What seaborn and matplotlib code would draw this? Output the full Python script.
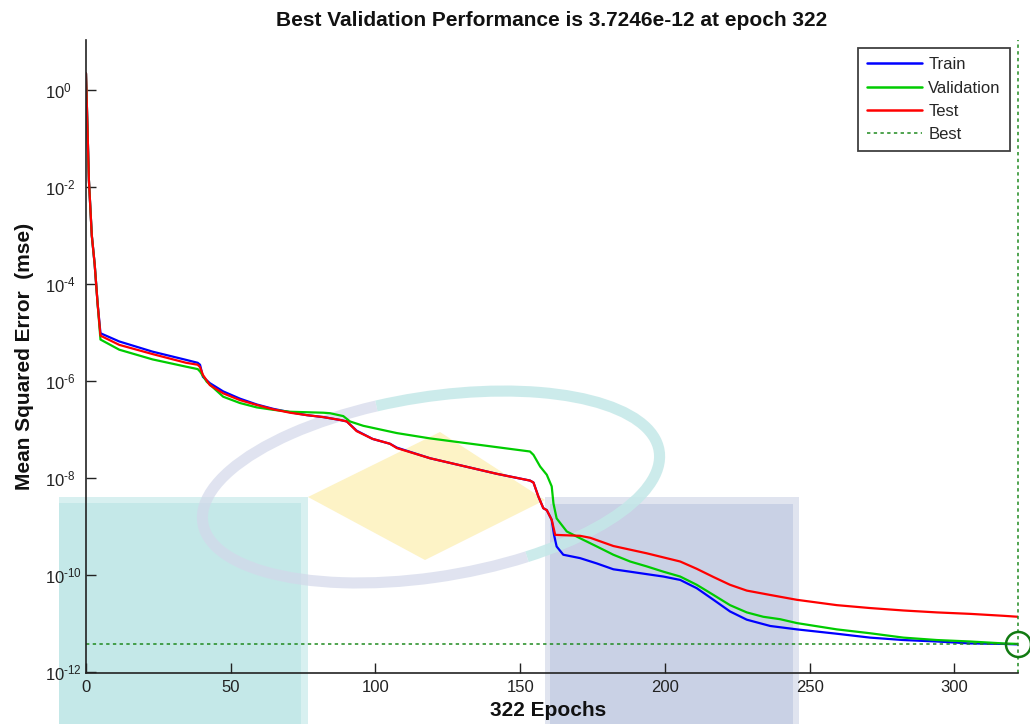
import numpy as np
import pandas as pd
import matplotlib
matplotlib.use("Agg")
import matplotlib.pyplot as plt
import seaborn as sns
from matplotlib.patches import Rectangle, Polygon, Arc
from matplotlib.transforms import IdentityTransform
from matplotlib.lines import Line2D
from matplotlib.ticker import NullLocator, FuncFormatter

# ---------------- data (log10 of mse) ----------------
train_epochs = [0, 1, 2, 3, 4, 5, 11.5, 23, 34.6, 38.6, 39.4, 40.4, 42.8, 47.4, 53.2, 59,
                64.7, 70.5, 76.3, 82, 87.8, 90.1, 93.5, 99, 105, 107.4, 118.9, 130.4, 141.9,
                153.4, 154.6, 156.3, 158, 159.2, 160.9, 161.7, 162.6, 164.9, 170.7, 176.5,
                182.2, 188, 193.7, 199.5, 205.3, 211, 216.8, 222.5, 228.3, 236.4, 245.6,
                259.4, 270.9, 282.4, 294, 305.5, 317, 322]
train_log10 = [0.34, -1.86, -3.0, -3.6, -4.4, -5.02, -5.19, -5.40, -5.57, -5.63, -5.67, -5.92,
               -6.05, -6.22, -6.37, -6.49, -6.58, -6.65, -6.71, -6.75, -6.81, -6.84, -7.03,
               -7.2, -7.3, -7.38, -7.60, -7.76, -7.92, -8.06, -8.10, -8.39, -8.63, -8.67,
               -8.87, -9.18, -9.42, -9.59, -9.66, -9.77, -9.89, -9.94, -9.99, -10.04, -10.11,
               -10.28, -10.52, -10.76, -10.93, -11.06, -11.13, -11.22, -11.30, -11.35, -11.38,
               -11.42, -11.43, -11.44]

val_epochs = [0, 1, 2, 3, 4, 5, 11.5, 23, 34.6, 38.6, 39.4, 41.7, 47.4, 53.2, 59, 64.7, 70.5,
              76.3, 82, 84.3, 88.9, 91.2, 95.8, 107.4, 118.9, 130.4, 141.9, 153.4, 154.6,
              156.9, 159.2, 160.9, 161.5, 162.6, 166.1, 170.7, 176.5, 182.2, 188, 193.7,
              199.5, 205.3, 211, 216.8, 222.5, 228.3, 234, 239.8, 245.6, 259.4, 270.9, 282.4,
              294, 305.5, 317, 322]
val_log10 = [0.34, -1.86, -3.0, -3.6, -4.4, -5.15, -5.36, -5.56, -5.71, -5.76, -5.81, -6.02,
             -6.33, -6.46, -6.55, -6.60, -6.64, -6.65, -6.66, -6.67, -6.73, -6.84, -6.93,
             -7.08, -7.19, -7.28, -7.37, -7.46, -7.53, -7.77, -7.94, -8.18, -8.53, -8.84,
             -9.11, -9.25, -9.42, -9.59, -9.73, -9.83, -9.94, -10.04, -10.21, -10.42, -10.63,
             -10.78, -10.87, -10.92, -11.0, -11.13, -11.21, -11.30, -11.35, -11.38, -11.42,
             -11.43]

test_epochs = [0, 1, 2, 3, 4, 5, 11.5, 23, 34.6, 38.6, 39.4, 40.4, 42.8, 47.4, 53.2, 59, 64.7,
               70.5, 76.3, 82, 87.8, 90.1, 93.5, 99, 105, 107.4, 118.9, 130.4, 141.9, 153.4,
               154.6, 156.3, 158, 159.2, 160.9, 162.1, 170.7, 174.2, 182.2, 193.7, 205.3, 211,
               216.8, 222.5, 228.3, 236.4, 245.6, 259.4, 270.9, 282.4, 294, 305.5, 317, 322]
test_log10 = [0.34, -1.86, -3.0, -3.6, -4.4, -5.07, -5.26, -5.45, -5.63, -5.67, -5.72, -5.88,
              -6.09, -6.26, -6.40, -6.50, -6.59, -6.66, -6.71, -6.75, -6.81, -6.84, -7.04,
              -7.2, -7.3, -7.39, -7.60, -7.76, -7.92, -8.06, -8.10, -8.39, -8.63, -8.67,
              -8.87, -9.18, -9.20, -9.24, -9.41, -9.56, -9.73, -9.88, -10.05, -10.21, -10.33,
              -10.42, -10.52, -10.63, -10.69, -10.74, -10.78, -10.81, -10.85, -10.87]

series_names = ["Train", "Validation", "Test"]
best_epoch = 322
best_perf = 3.7246e-12
n_epochs = 322
y_ticks = [1e0, 1e-2, 1e-4, 1e-6, 1e-8, 1e-10, 1e-12]
x_ticks = [0, 50, 100, 150, 200, 250, 300]

colors = {"Train": "#0000ff", "Validation": "#00cc00", "Test": "#ff0000"}
best_color = "#1f8a1f"

frames = []
for name, ep, lg in [("Train", train_epochs, train_log10),
                     ("Validation", val_epochs, val_log10),
                     ("Test", test_epochs, test_log10)]:
    frames.append(pd.DataFrame({"epoch": ep, "mse": np.power(10.0, lg), "set": name}))
df = pd.concat(frames, ignore_index=True)

# ---------------- figure ----------------
sns.set_theme(style="white")
plt.rcParams["font.family"] = ["Liberation Sans", "DejaVu Sans"]
plt.rcParams["mathtext.fontset"] = "custom"
plt.rcParams["mathtext.rm"] = "Liberation Sans"
plt.rcParams["mathtext.it"] = "Liberation Sans:italic"
plt.rcParams["mathtext.bf"] = "Liberation Sans:bold"

W, H = 1030, 724
fig = plt.figure(figsize=(W / 100, H / 100), dpi=100)
fig.patch.set_facecolor("white")
ax = fig.add_axes([86 / W, 1 - 673 / H, (1018 - 86) / W, (673 - 40) / H])
ax.set_facecolor("none")

# watermark-like background shapes (pixel coordinates of the image)
idt = IdentityTransform()
def rect(x0, y0, x1, y1, color, z):
    fig.add_artist(Rectangle((x0, H - y1), x1 - x0, y1 - y0, transform=idt,
                             facecolor=color, edgecolor="none", zorder=z))
rect(59, 497, 308, 724, "#d8f0f0", -3)
rect(59, 503, 301, 724, "#c4e8e8", -2.9)
rect(545, 497, 799, 724, "#e0e4ef", -3)
rect(550, 504, 793, 724, "#c9d1e5", -2.9)
fig.add_artist(Polygon([(308, H - 497), (440, H - 432), (545, H - 500), (425, H - 560)],
                       closed=True, transform=idt, facecolor="#fdf3c6", edgecolor="none",
                       zorder=-2.8))
fig.add_artist(Arc((431, H - 487), 462, 180, angle=9, theta1=-45, theta2=115,
                   transform=idt, edgecolor="#c4e8e8", lw=8, alpha=0.85, zorder=-2.5))
fig.add_artist(Arc((431, H - 487), 462, 180, angle=9, theta1=115, theta2=315,
                   transform=idt, edgecolor="#d3d8ea", lw=8, alpha=0.7, zorder=-2.5))

sns.lineplot(data=df, x="epoch", y="mse", hue="set", hue_order=series_names,
             palette=colors, estimator=None, sort=False, linewidth=1.6,
             legend=False, ax=ax)
ax.set_yscale("log")

# best markers
ax.axhline(best_perf, color=best_color, lw=1.1, ls=(0, (2.2, 2.2)), clip_on=False)
ax.axvline(best_epoch, color=best_color, lw=1.1, ls=(0, (2.2, 2.2)), clip_on=False)
ax.plot([best_epoch], [best_perf], marker="o", ms=18, mfc="none", mec="#117a11",
        mew=1.8, clip_on=False, zorder=5)

ax.set_xlim(0, n_epochs)
ax.set_ylim(10 ** -12.03, 10 ** 1.03)
ax.set_xticks(x_ticks)
ax.set_yticks(y_ticks)
ax.yaxis.set_minor_locator(NullLocator())
ax.xaxis.set_minor_locator(NullLocator())
ax.yaxis.set_major_formatter(FuncFormatter(
    lambda v, p: r"$\mathdefault{10^{\text{%d}}}$" % int(round(np.log10(v)))))

for s in ["top", "right"]:
    ax.spines[s].set_visible(False)
for s in ["left", "bottom"]:
    ax.spines[s].set_color("#222222")
    ax.spines[s].set_linewidth(1.2)

ax.tick_params(axis="both", which="major", direction="in", length=7, width=1,
               color="#222222", labelcolor="#222222", labelsize=12,
               bottom=True, left=True, top=False, right=False)
ax.tick_params(axis="x", pad=5)
ax.tick_params(axis="y", pad=29.5)
plt.setp(ax.get_yticklabels(), ha="left")

ax.set_title("Best Validation Performance is 3.7246e-12 at epoch 322",
             fontsize=15, fontweight="bold", pad=10, color="#111111")
ax.set_xlabel("322 Epochs", fontsize=15, fontweight="bold", color="#111111")
ax.set_ylabel("Mean Squared Error  (mse)", fontsize=15, fontweight="bold", color="#111111")
ax.xaxis.set_label_coords(0.4957, -0.045)
ax.yaxis.set_label_coords(-0.056, 0.5)

handles = [Line2D([], [], color=colors["Train"], lw=1.8),
           Line2D([], [], color=colors["Validation"], lw=1.8),
           Line2D([], [], color=colors["Test"], lw=1.8),
           Line2D([], [], color=best_color, lw=1.1, ls=(0, (2.2, 2.2)))]
leg = ax.legend(handles, series_names + ["Best"], loc="upper right",
                bbox_to_anchor=(1010 / W, 1 - 48 / H), bbox_transform=fig.transFigure,
                borderaxespad=0, fontsize=12, handlelength=3.3, handletextpad=0.4,
                labelspacing=0.5, borderpad=0.55, fancybox=False, frameon=True)
leg.get_frame().set_edgecolor("#404040")
leg.get_frame().set_linewidth(1.3)
leg.get_frame().set_facecolor("white")
leg.get_frame().set_alpha(1)

fig.savefig("out.png", dpi=100)
